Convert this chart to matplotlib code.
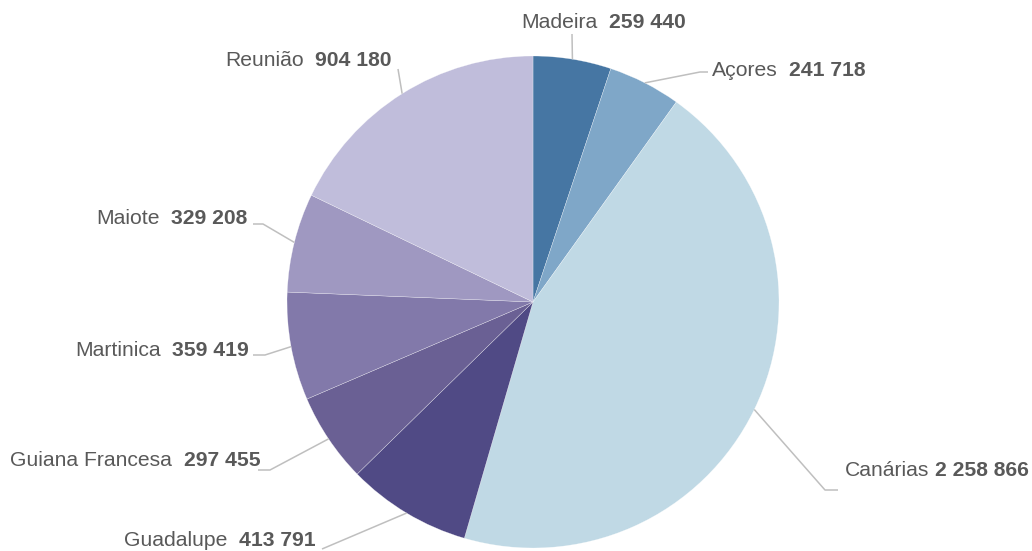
import numpy as np
import matplotlib
matplotlib.use("Agg")
import matplotlib.pyplot as plt

# ---- data ----
regions = ["Madeira", "Açores", "Canárias", "Guadalupe", "Guiana Francesa",
           "Martinica", "Maiote", "Reunião"]
values = [259440, 241718, 2258866, 413791, 297455, 359419, 329208, 904180]
value_labels = ["259 440", "241 718", "2 258 866", "413 791", "297 455",
                "359 419", "329 208", "904 180"]
colors = ["#4676A3", "#7FA7C8", "#C0D9E5", "#504A85", "#6A6094",
          "#8279AA", "#9F98C1", "#C0BDDB"]

# ---- layout (pixel positions in a 1032x551 canvas) ----
W, H = 1032, 551
CX, CY, R = 533, 302, 246

label_pos = {
    "Madeira": (521, 22),
    "Açores": (712, 70),
    "Canárias": (845, 471),
    "Guadalupe": (124, 541),
    "Guiana Francesa": (10, 460),
    "Martinica": (75, 350),
    "Maiote": (96, 218),
    "Reunião": (225, 61),
}
leader_pts = {
    "Madeira": [(572, 34)],
    "Açores": [(700, 72), (708, 72)],
    "Canárias": [(825, 490), (838, 490)],
    "Guadalupe": [(322, 549)],
    "Guiana Francesa": [(270, 470), (258, 470)],
    "Martinica": [(265, 355), (253, 355)],
    "Maiote": [(263, 224), (253, 224)],
    "Reunião": [(398, 69)],
}
gaps = {"Canárias": 4.2}


def px(x, y):
    return ((x - CX) / R, (CY - y) / R)


plt.rcParams["font.family"] = ["Liberation Sans", "DejaVu Sans"]
TXT = "#595959"
LINE = "#BFBFBF"
FS = 15.2

fig = plt.figure(figsize=(W / 100, H / 100), dpi=100)
ax = fig.add_axes([0, 0, 1, 1])

wedges, _ = ax.pie(values, colors=colors, startangle=90, counterclock=False,
                   radius=1, center=(0, 0),
                   wedgeprops=dict(edgecolor=(1, 1, 1, 0.6), linewidth=0.3))
ax.set_aspect("auto")
ax.set_xlim(-CX / R, (W - CX) / R)
ax.set_ylim(-(H - CY) / R, CY / R)
ax.axis("off")

for w, name, vlab in zip(wedges, regions, value_labels):
    mid = np.deg2rad((w.theta1 + w.theta2) / 2)
    ex, ey = np.cos(mid), np.sin(mid)
    pts = [(ex, ey)] + [px(*p) for p in leader_pts[name]]
    xs, ys = zip(*pts)
    ax.plot(xs, ys, color=LINE, lw=1.1, solid_capstyle="butt", zorder=1)

    lx, ly = px(*label_pos[name])
    t1 = ax.text(lx, ly, name, ha="left", va="center", fontsize=FS, color=TXT)
    ax.annotate(vlab, xy=(1, 0.5), xycoords=t1,
                xytext=(gaps.get(name, 8.4), 0), textcoords="offset points",
                ha="left", va="center", fontsize=FS, color=TXT,
                fontweight="bold")

fig.savefig("out.png", dpi=100)
